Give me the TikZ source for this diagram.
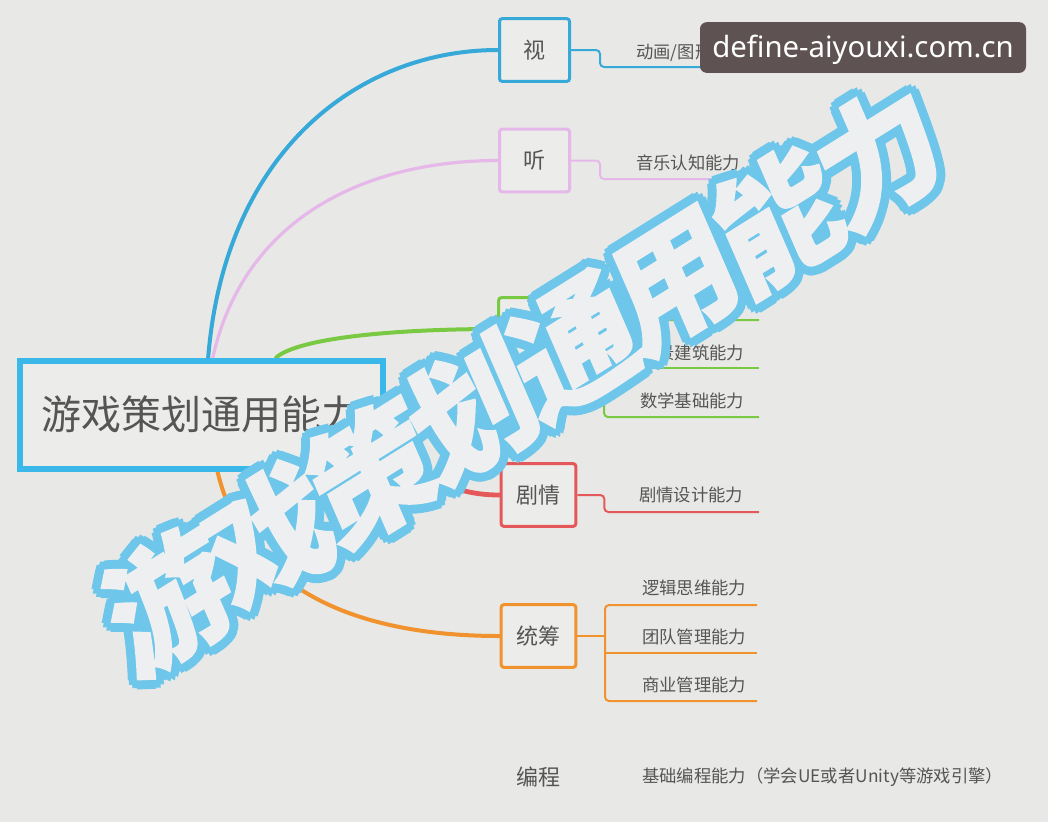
\documentclass[tikz,border=0pt]{standalone}
\usepackage{fontspec}
\usepackage{tikz}
\usetikzlibrary{calc,backgrounds}
\setmainfont{Noto Sans}
\newfontfamily\cjk{Noto Sans CJK SC}
\newfontfamily\wmfont[FakeBold=1.2]{Noto Sans CJK SC}

\definecolor{bg}{HTML}{E8E8E6}
\definecolor{boxfill}{HTML}{ECECEA}
\definecolor{ink}{HTML}{555555}
\definecolor{rootc}{HTML}{3AB8EA}
\definecolor{seec}{HTML}{36A9D9}
\definecolor{hearc}{HTML}{E6B8EA}
\definecolor{levelc}{HTML}{7AC943}
\definecolor{plotc}{HTML}{E5585A}
\definecolor{planc}{HTML}{F0922E}
\definecolor{wmline}{HTML}{6EC6EA}
\definecolor{wmfill}{HTML}{EDEFF1}
\definecolor{badge}{HTML}{5F5252}

\tikzset{
  box/.style={draw, rounded corners=2pt, line width=2.25pt, fill=boxfill,
    minimum width=52.5pt, minimum height=47pt, inner xsep=11.5pt,
    font=\cjk\fontsize{16.5}{20}\selectfont, text=ink},
  leaf/.style={anchor=west, inner sep=0pt, font=\cjk\fontsize{13}{16}\selectfont, text=ink},
  branch/.style={line width=3pt, line cap=round},
  twig/.style={line width=1.5pt, rounded corners=3pt},
  wmark/.style={inner sep=0pt, rotate=32, xslant=0.15,
    font=\wmfont\bfseries\fontsize{96}{96}\selectfont},
}

\begin{document}
\begin{tikzpicture}[x=0.75pt, y=-0.75pt]
  \useasboundingbox (0,0) rectangle (1048,822);

  % Root and main topics
  \node[draw=rootc, line width=4.5pt, fill=boxfill, minimum width=272pt, minimum height=81pt,
    font=\cjk\fontsize{30}{36}\selectfont, text=ink] (root) at (201.5,414.5) {游戏策划通用能力};
  \node[box, draw=seec] (see) at (534.5,50) {视};
  \node[box, draw=hearc] (hear) at (534.5,160.5) {听};
  \node[box, draw=levelc] (level) at (536,329) {关卡};
  \node[box, draw=plotc] (plot) at (538.5,495) {剧情};
  \node[box, draw=planc] (plan) at (538.5,636) {统筹};
  \node[font=\cjk\fontsize{16.5}{20}\selectfont, text=ink] (code) at (538,777) {编程};

  % Curves from the root
  \begin{pgfonlayer}{background}
    \fill[bg] (0,0) rectangle (1048,822);
    \draw[branch, seec] ([xshift=5pt]root.north) .. controls +(17,-208) and +(-138,0) .. (see.west);
    \draw[branch, hearc, line width=2.4pt] ([xshift=8.5pt]root.north) .. controls +(32,-143) and +(-128,0) .. (hear.west);
    \draw[branch, levelc] ([xshift=56pt]root.north) .. controls +(23,-20) and +(-100,0) .. (level.west);
    \draw[branch, plotc, line width=3.6pt] ([yshift=-30pt]root.east) .. controls +(30,0) and +(-70,0) .. (plot.west);
    \draw[branch, planc] ([xshift=12pt]root.south) .. controls +(27,114) and +(-150,0) .. (plan.west);
  \end{pgfonlayer}

  % Sub topics
  \node[leaf] (see1) at (636,53) {动画/图形审美能力};
  \coordinate (see1e) at (779,67);
  \draw[twig, seec] (see.east) -- ++(29,0) |- (see1e);

  \node[leaf] (hear1) at (636,163) {音乐认知能力};
  \coordinate (hear1e) at (752,179);
  \draw[twig, hearc] (hear.east) -- ++(29,0) |- (hear1e);

  \node[leaf] (level1) at (640,304) {关卡设计能力};
  \node[leaf] (level2) at (640,353) {场景建筑能力};
  \node[leaf] (level3) at (640,401) {数学基础能力};
  \coordinate (level1e) at (759,320);
  \coordinate (level2e) at (759,368);
  \coordinate (level3e) at (759,417);
  \coordinate (levelfork) at (604,329);
  \draw[twig, levelc] (level.east) -- (levelfork);
  \draw[twig, levelc] (level1e) -| (levelfork) |- (level3e);
  \draw[twig, levelc] (levelfork |- level2e) -- (level2e);

  \node[leaf] (plot1) at (639,495) {剧情设计能力};
  \coordinate (plot1e) at (759,512);
  \draw[twig, plotc] (plot.east) -- ++(27,0) |- (plot1e);

  \node[leaf] (plan1) at (642,588) {逻辑思维能力};
  \node[leaf] (plan2) at (642,637) {团队管理能力};
  \node[leaf] (plan3) at (642,685) {商业管理能力};
  \coordinate (plan1e) at (757,605);
  \coordinate (plan2e) at (757,653);
  \coordinate (plan3e) at (757,701);
  \coordinate (planfork) at (605,636);
  \draw[twig, planc] (plan.east) -- (planfork);
  \draw[twig, planc] (plan1e) -| (planfork) |- (plan3e);
  \draw[twig, planc] (planfork |- plan2e) -- (plan2e);

  \node[leaf] (code1) at (642,777) {基础编程能力（学会UE或者Unity等游戏引擎）};

  % Watermark
  \foreach \ch [count=\i from 0] in {游,戏,策,划,通,用,能,力} {
    \coordinate (wm\i) at ($(168,600)+\i*(101.5,-63.5)$);
    \foreach \a in {0,30,...,330}
      \node[wmark, text=wmline] at ($(wm\i)+(\a:9)$) {\ch};
  }
  \foreach \ch [count=\i from 0] in {游,戏,策,划,通,用,能,力}
    \node[wmark, text=wmfill] at (wm\i) {\ch};

  \node[fill=badge, rounded corners=5pt, minimum width=244.5pt, minimum height=38pt] (site) at (863,47.5) {};
  \node[text=white, font=\fontsize{22}{26}\selectfont] (sitename) at ([yshift=-2pt]site.center) {define-aiyouxi.com.cn};
\end{tikzpicture}
\end{document}
